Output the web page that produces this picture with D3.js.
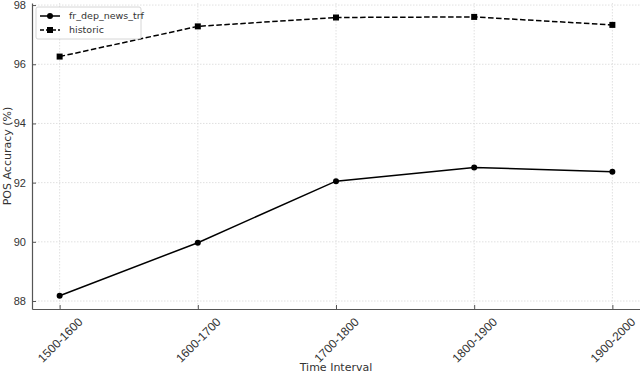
<!DOCTYPE html>
<html>
<head>
<meta charset="utf-8">
<script src="https://cdn.jsdelivr.net/npm/d3@7"></script>
<style>
  body { margin: 0; background: #fff; }
  svg { display: block; font-family: "DejaVu Sans", sans-serif; }
</style>
</head>
<body>
<script>
// chart values
var intervals = ["1500-1600", "1600-1700", "1700-1800", "1800-1900", "1900-2000"];
var newsTrf = [88.18, 89.97, 92.05, 92.51, 92.37];
var historic = [96.26, 97.28, 97.58, 97.60, 97.33];
var yTicks = [88, 90, 92, 94, 96, 98];

var width = 640, height = 375;
var margin = {top: 3, right: 0, bottom: 66, left: 32};
var w = width - margin.left - margin.right,
    h = height - margin.top - margin.bottom;

var svg = d3.select("body").append("svg")
    .attr("width", width)
    .attr("height", height);

var g = svg.append("g")
    .attr("transform", "translate(" + margin.left + "," + margin.top + ")");

// 5% padding like matplotlib
var x = d3.scaleLinear().domain([-0.2, 4.2]).range([0, w]);
var y = d3.scaleLinear().domain([87.73, 98.07]).range([h, 0]);

// grid
g.selectAll(".vgrid").data(intervals).enter().append("line")
    .attr("x1", function(d, i) { return x(i); })
    .attr("x2", function(d, i) { return x(i); })
    .attr("y1", 0).attr("y2", h)
    .attr("stroke", "#d8d8d8").attr("stroke-width", 0.8)
    .attr("stroke-dasharray", "1.5,1.5");
g.selectAll(".hgrid").data(yTicks).enter().append("line")
    .attr("x1", 0).attr("x2", w)
    .attr("y1", function(d) { return y(d); })
    .attr("y2", function(d) { return y(d); })
    .attr("stroke", "#d8d8d8").attr("stroke-width", 0.8)
    .attr("stroke-dasharray", "1.5,1.5");

// axes
var xAxis = d3.axisBottom(x).tickValues(d3.range(intervals.length))
    .tickFormat(function(i) { return intervals[i]; })
    .tickSizeInner(-4).tickSizeOuter(0).tickPadding(6);
var yAxis = d3.axisLeft(y).tickValues(yTicks)
    .tickSizeInner(-4).tickSizeOuter(0).tickPadding(6);

var gx = g.append("g").attr("transform", "translate(0," + h + ")").call(xAxis);
var gy = g.append("g").call(yAxis);

[gx, gy].forEach(function(a) {
  a.select(".domain").attr("stroke", "#555").attr("stroke-width", 1.2);
  a.selectAll(".tick line").attr("stroke", "#555");
  a.selectAll("text").attr("font-size", 11).attr("fill", "#333");
});
gx.selectAll("text")
    .attr("text-anchor", "middle")
    .attr("y", 0).attr("dy", "0.35em")
    .attr("font-size", 12)
    .attr("transform", "translate(0,31) rotate(-45)");

// series
var line = d3.line()
    .x(function(d, i) { return x(i); })
    .y(function(d) { return y(d); });

g.append("path").datum(newsTrf)
    .attr("d", line).attr("fill", "none")
    .attr("stroke", "#000").attr("stroke-width", 1.5);
g.selectAll(".dot").data(newsTrf).enter().append("circle")
    .attr("cx", function(d, i) { return x(i); })
    .attr("cy", function(d) { return y(d); })
    .attr("r", 3).attr("fill", "#000");

g.append("path").datum(historic)
    .attr("d", line).attr("fill", "none")
    .attr("stroke", "#000").attr("stroke-width", 1.5)
    .attr("stroke-dasharray", "5.5,2.5");
g.selectAll(".sq").data(historic).enter().append("rect")
    .attr("x", function(d, i) { return x(i) - 3; })
    .attr("y", function(d) { return y(d) - 3; })
    .attr("width", 6).attr("height", 6).attr("fill", "#000");

// axis labels
svg.append("text")
    .attr("x", margin.left + w / 2).attr("y", 371)
    .attr("text-anchor", "middle")
    .attr("font-size", 11).attr("fill", "#333")
    .text("Time Interval");
svg.append("text")
    .attr("transform", "translate(11," + (margin.top + h / 2) + ") rotate(-90)")
    .attr("text-anchor", "middle")
    .attr("font-size", 11).attr("fill", "#333")
    .text("POS Accuracy (%)");

// legend
var leg = g.append("g").attr("transform", "translate(4,4)");
leg.append("rect").attr("width", 105).attr("height", 32).attr("rx", 2)
    .attr("fill", "#fff").attr("fill-opacity", 0.8)
    .attr("stroke", "#ccc").attr("stroke-width", 0.8);
var names = ["fr_dep_news_trf", "historic"];
names.forEach(function(n, i) {
  var ly = 9 + i * 14;
  var item = leg.append("g");
  item.append("line").attr("x1", 4).attr("x2", 24).attr("y1", ly).attr("y2", ly)
      .attr("stroke", "#000").attr("stroke-width", 1.5)
      .attr("stroke-dasharray", i === 1 ? "4,2" : null);
  if (i === 0) {
    item.append("circle").attr("cx", 14).attr("cy", ly).attr("r", 3).attr("fill", "#000");
  } else {
    item.append("rect").attr("x", 11).attr("y", ly - 3).attr("width", 6).attr("height", 6).attr("fill", "#000");
  }
  item.append("text").attr("x", 33).attr("y", ly).attr("dy", "0.35em")
      .attr("font-size", 9.5).attr("fill", "#333").text(n);
});
</script>
</body>
</html>
